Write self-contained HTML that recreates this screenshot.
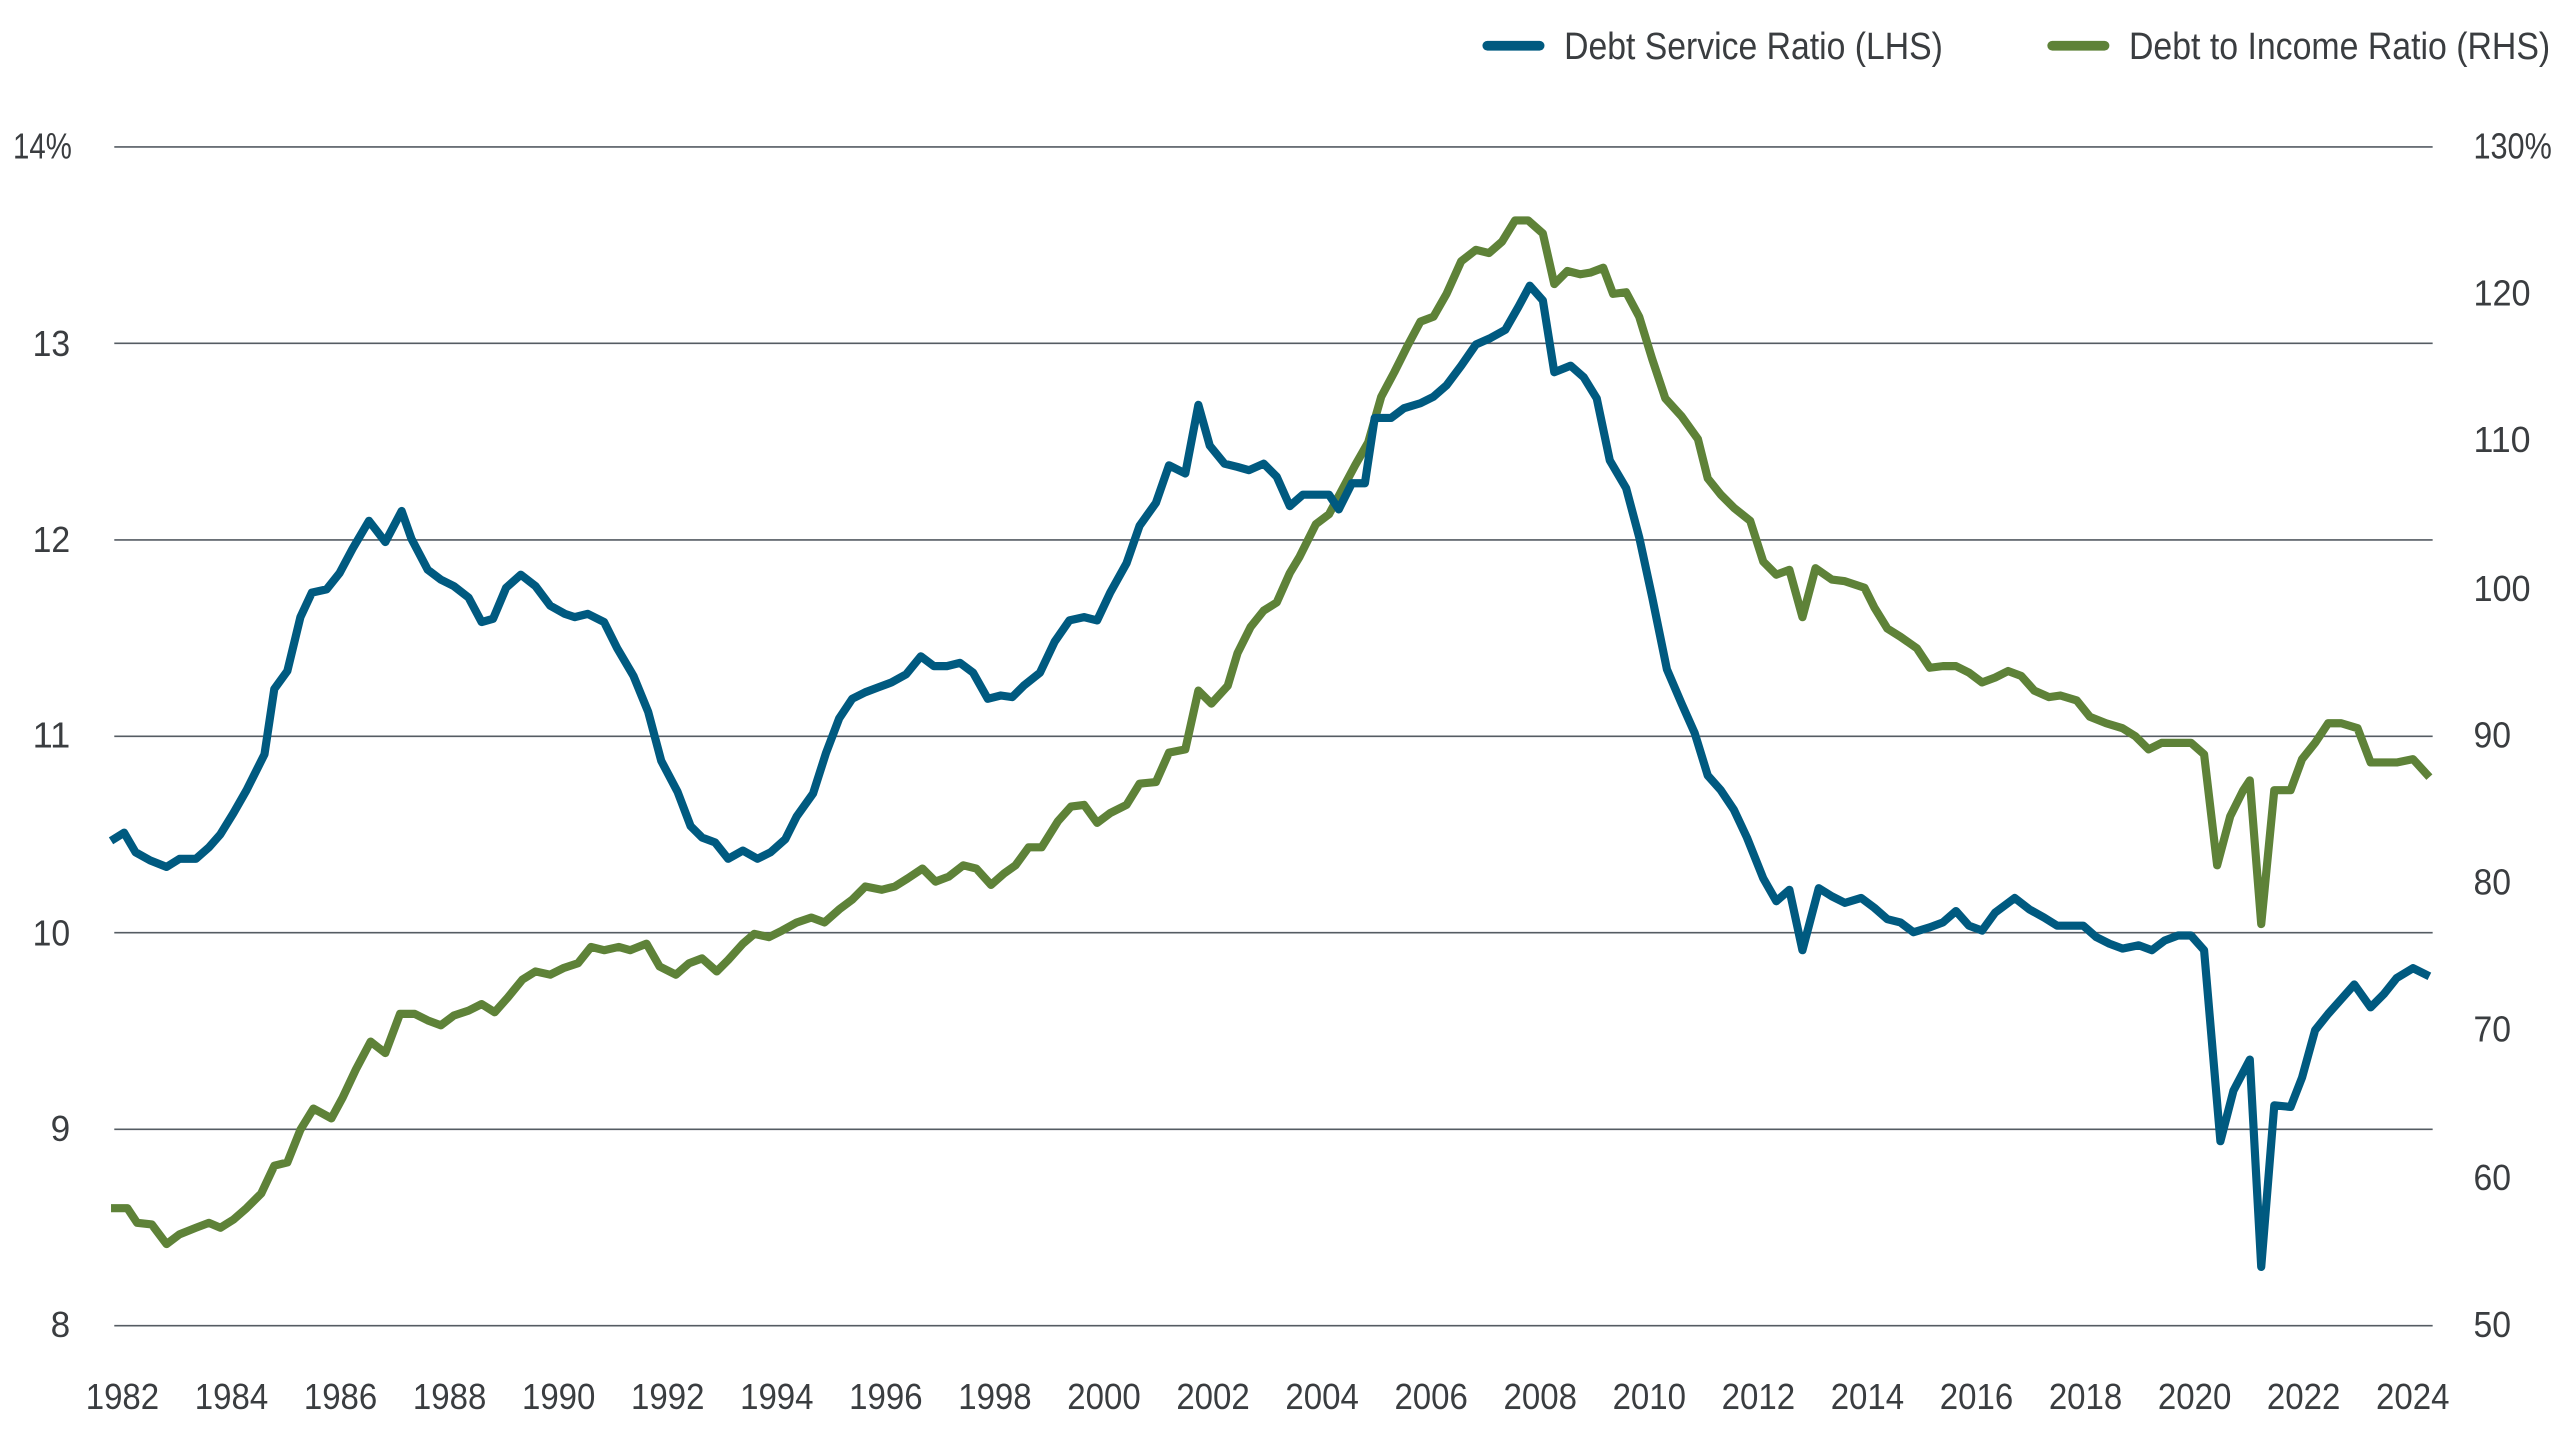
<!DOCTYPE html>
<html><head><meta charset="utf-8"><style>
html,body{margin:0;padding:0;background:#fff;}
svg{display:block}
text{font-family:"Liberation Sans",sans-serif;fill:#3a3d40;}
</style></head><body>
<svg width="2560" height="1440" viewBox="0 0 1568 882" xmlns="http://www.w3.org/2000/svg">
<g stroke="#555c63" stroke-width="1">
<line x1="70" y1="90" x2="1490" y2="90"/>
<line x1="70" y1="210.3" x2="1490" y2="210.3"/>
<line x1="70" y1="330.7" x2="1490" y2="330.7"/>
<line x1="70" y1="451" x2="1490" y2="451"/>
<line x1="70" y1="571.3" x2="1490" y2="571.3"/>
<line x1="70" y1="691.7" x2="1490" y2="691.7"/>
<line x1="70" y1="812" x2="1490" y2="812"/>
</g>
<g font-size="22">
<text x="8" y="97" textLength="36" lengthAdjust="spacingAndGlyphs">14%</text>
<text x="20" y="218" textLength="23" lengthAdjust="spacingAndGlyphs">13</text>
<text x="20" y="338" textLength="23" lengthAdjust="spacingAndGlyphs">12</text>
<text x="20" y="458" textLength="23" lengthAdjust="spacingAndGlyphs">11</text>
<text x="20" y="579" textLength="23" lengthAdjust="spacingAndGlyphs">10</text>
<text x="31" y="699" textLength="12" lengthAdjust="spacingAndGlyphs">9</text>
<text x="31" y="819" textLength="12" lengthAdjust="spacingAndGlyphs">8</text>
<text x="1515" y="97" textLength="48" lengthAdjust="spacingAndGlyphs">130%</text>
<text x="1515" y="187" textLength="35" lengthAdjust="spacingAndGlyphs">120</text>
<text x="1515" y="277" textLength="35" lengthAdjust="spacingAndGlyphs">110</text>
<text x="1515" y="368" textLength="35" lengthAdjust="spacingAndGlyphs">100</text>
<text x="1515" y="458" textLength="23" lengthAdjust="spacingAndGlyphs">90</text>
<text x="1515" y="548" textLength="23" lengthAdjust="spacingAndGlyphs">80</text>
<text x="1515" y="638" textLength="23" lengthAdjust="spacingAndGlyphs">70</text>
<text x="1515" y="729" textLength="23" lengthAdjust="spacingAndGlyphs">60</text>
<text x="1515" y="819" textLength="23" lengthAdjust="spacingAndGlyphs">50</text>
</g>
<g font-size="22" text-anchor="middle">
<text x="75" y="863" textLength="45" lengthAdjust="spacingAndGlyphs">1982</text><text x="141.8" y="863" textLength="45" lengthAdjust="spacingAndGlyphs">1984</text><text x="208.6" y="863" textLength="45" lengthAdjust="spacingAndGlyphs">1986</text><text x="275.4" y="863" textLength="45" lengthAdjust="spacingAndGlyphs">1988</text><text x="342.2" y="863" textLength="45" lengthAdjust="spacingAndGlyphs">1990</text><text x="409" y="863" textLength="45" lengthAdjust="spacingAndGlyphs">1992</text><text x="475.8" y="863" textLength="45" lengthAdjust="spacingAndGlyphs">1994</text><text x="542.6" y="863" textLength="45" lengthAdjust="spacingAndGlyphs">1996</text><text x="609.4" y="863" textLength="45" lengthAdjust="spacingAndGlyphs">1998</text><text x="676.2" y="863" textLength="45" lengthAdjust="spacingAndGlyphs">2000</text><text x="743" y="863" textLength="45" lengthAdjust="spacingAndGlyphs">2002</text><text x="809.8" y="863" textLength="45" lengthAdjust="spacingAndGlyphs">2004</text><text x="876.6" y="863" textLength="45" lengthAdjust="spacingAndGlyphs">2006</text><text x="943.4" y="863" textLength="45" lengthAdjust="spacingAndGlyphs">2008</text><text x="1010.2" y="863" textLength="45" lengthAdjust="spacingAndGlyphs">2010</text><text x="1077" y="863" textLength="45" lengthAdjust="spacingAndGlyphs">2012</text><text x="1143.8" y="863" textLength="45" lengthAdjust="spacingAndGlyphs">2014</text><text x="1210.6" y="863" textLength="45" lengthAdjust="spacingAndGlyphs">2016</text><text x="1277.4" y="863" textLength="45" lengthAdjust="spacingAndGlyphs">2018</text><text x="1344.2" y="863" textLength="45" lengthAdjust="spacingAndGlyphs">2020</text><text x="1411" y="863" textLength="45" lengthAdjust="spacingAndGlyphs">2022</text><text x="1477.8" y="863" textLength="45" lengthAdjust="spacingAndGlyphs">2024</text>
</g>
<line x1="911" y1="28" x2="943" y2="28" stroke="#005a80" stroke-width="6" stroke-linecap="round"/>
<text x="958" y="36" font-size="23" textLength="232" lengthAdjust="spacingAndGlyphs">Debt Service Ratio (LHS)</text>
<line x1="1257" y1="28" x2="1289" y2="28" stroke="#5e8238" stroke-width="6" stroke-linecap="round"/>
<text x="1304" y="36" font-size="23" textLength="258" lengthAdjust="spacingAndGlyphs">Debt to Income Ratio (RHS)</text>
<polyline fill="none" stroke="#5e8238" stroke-width="5" stroke-linejoin="round" points="68,740 78,740 84,749 93,750 102,762 110,756 120,752 128,749 135,752 143,747 151,740 160,731 168,714 176,712 184,692 192,679 203,685 210,672 218,655 227,638 236,645 245,621 254,621 262,625 270,628 278,622 287,619 295,615 303,620 311,611 320,600 328,595 337,597 345,593 354,590 362,580 370,582 379,580 386,582 396,578 404,592 414,597 422,590 430,587 439,595 446,588 455,578 462,572 471,574 479,570 488,565 497,562 505,565 514,557 522,551 530,543 540,545 548,543 556,538 565,532 573,540 581,537 590,530 598,532 607,542 615,535 622,530 630,519 638,519 648,503 656,494 664,493 672,504 680,498 690,493 698,480 708,479 716,461 726,459 734,423 742,431 752,420 758,400 766,384 774,374 782,369 790,351 796,341 806,321 814,315 822,300 830,285 838,271 846,243 854,228 862,212 870,197 878,194 886,180 895,160 904,153 912,155 920,148 928,135 936,135 945,143 952,174 960,166 968,168 974,167 982,164 988,180 996,179 1004,194 1012,220 1020,244 1030,255 1040,269 1046,293 1054,303 1062,311 1072,319 1080,344 1088,352 1096,349 1104,378 1112,348 1122,355 1130,356 1142,360 1148,372 1156,385 1164,390 1174,397 1182,409 1190,408 1198,408 1206,412 1214,418 1222,415 1230,411 1238,414 1246,423 1255,427 1262,426 1272,429 1280,439 1290,443 1300,446 1308,451 1316,459 1324,455 1332,455 1342,455 1350,462 1358,530 1366,500 1374,484 1378,478 1385,566 1393,484 1403,484 1410,465 1418,455 1426,443 1434,443 1444,446 1452,467 1460,467 1468,467 1478,465 1488,476"/>
<polyline fill="none" stroke="#005a80" stroke-width="5" stroke-linejoin="round" points="68,515 76,510 83,522 92,527 102,531 110,526 120,526 128,519 135,511 143,498 151,484 156,474 162,462 168,422 176,411 184,378 191,363 200,361 208,351 216,336 226,319 236,332 246,313 252,330 262,349 270,355 278,359 287,366 295,381 302,379 310,360 319,352 328,359 337,371 346,376 352,378 360,376 370,381 378,397 388,414 397,436 405,466 415,485 423,506 430,513 438,516 446,526 455,521 464,526 472,522 481,514 488,500 498,486 506,461 514,440 522,428 530,424 538,421 546,418 555,413 564,402 572,408 580,408 588,406 596,412 605,428 613,426 620,427 627,420 637,412 646,393 655,380 664,378 672,380 680,363 690,345 698,322 708,308 716,285 726,290 734,248 741,273 750,284 758,286 765,288 774,284 782,292 790,310 798,303 806,303 814,303 820,312 828,296 836,296 842,256 852,256 860,250 870,247 878,243 886,236 895,224 904,211 913,207 922,202 930,188 937,175 945,184 952,228 962,224 970,231 978,244 986,282 996,299 1004,329 1012,366 1021,410 1030,431 1038,449 1046,475 1054,484 1062,496 1070,513 1080,538 1088,552 1096,545 1104,582 1114,544 1122,549 1130,553 1140,550 1148,556 1156,563 1164,565 1172,571 1182,568 1190,565 1198,558 1206,567 1214,570 1222,559 1234,550 1243,557 1252,562 1260,567 1268,567 1276,567 1284,574 1292,578 1300,581 1310,579 1318,582 1326,576 1334,573 1342,573 1350,582 1360,699 1368,668 1378,649 1385,776 1393,677 1403,678 1410,660 1418,631 1426,621 1434,612 1442,603 1452,617 1460,609 1468,599 1478,593 1488,598"/>
</svg>
</body></html>
